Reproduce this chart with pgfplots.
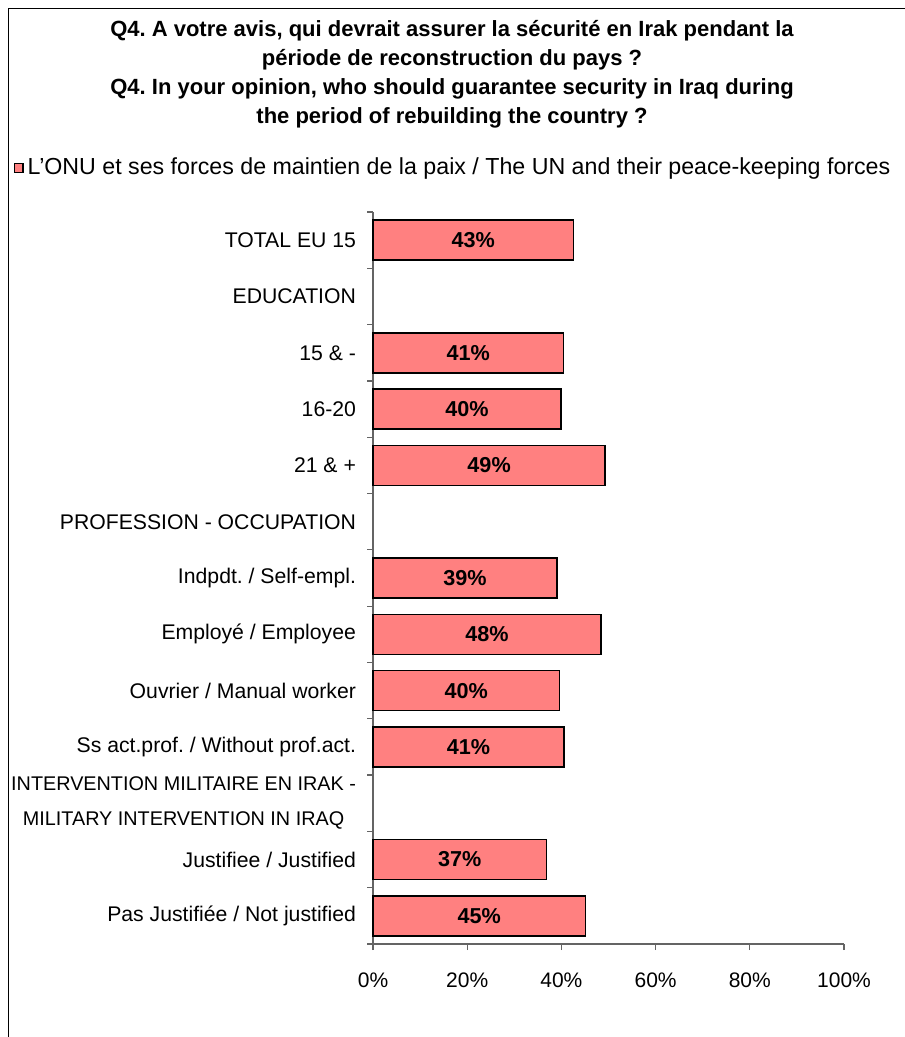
\documentclass[border=0pt]{standalone}
\usepackage{fontspec}
\setmainfont{Liberation Sans}
\usepackage{pgfplots}
\pgfplotsset{compat=1.18}
\usepackage{pgfplotstable}
\frenchspacing

\definecolor{barred}{RGB}{255,128,128}
\definecolor{axgray}{RGB}{100,100,100}

\newcommand\labfont{\fontsize{9.9}{17.4}\selectfont}
\newcommand\intlab{\labfont INTERVENTION MILITAIRE EN IRAK -\\\labfont MILITARY INTERVENTION IN IRAQ}

% y = position from the top, v = bar length, lab = printed value
\pgfplotstableread{
y v lab
0 42.6 43
2 40.4 41
3 39.9 40
4 49.3 49
6 39.1 39
7 48.4 48
8 39.6 40
9 40.5 41
11 36.8 37
12 45.1 45
}\datatable

\begin{document}
\begin{tikzpicture}
\useasboundingbox (0,0) rectangle (452pt,-518.5pt);
\draw[black, line width=0.8pt] (4.2pt,-4.2pt) rectangle (470pt,-540pt);
\node[align=center, font=\fontsize{11}{14.5}\selectfont\bfseries] at (226pt,-37pt)
  {Q4. A votre avis, qui devrait assurer la sécurité en Irak pendant la\\
   période de reconstruction du pays ?\\
   Q4. In your opinion, who should guarantee security in Iraq during\\
   the period of rebuilding the country ?};
\begin{axis}[
    at={(186.5pt,-472pt)}, anchor=south west,
    scale only axis,
    width=235.5pt, height=366pt,
    xmin=0, xmax=100,
    ymin=-0.5, ymax=12.5,
    y dir=reverse,
    axis lines*=left,
    axis line style={axgray, line width=0.6pt},
    tick style={axgray, line width=0.6pt},
    tick align=outside,
    major tick length=3pt,
    xtick={0,20,...,100},
    xticklabel={\pgfmathprintnumber{\tick}\%},
    xticklabel style={yshift=-8pt, font=\fontsize{10.5}{12}\selectfont},
    ytick={-0.5,0.5,...,12.5},
    yticklabels={},
    extra y ticks={0,...,12},
    extra y tick labels={TOTAL EU 15,EDUCATION,15 \& -,16-20,21 \& +,
      PROFESSION - OCCUPATION,Indpdt. / Self-empl.,Employé / Employee,
      Ouvrier / Manual worker,Ss act.prof. / Without prof.act.,
      \intlab,
      Justifiee / Justified,Pas Justifiée / Not justified},
    extra y tick style={major tick length=0pt,
      yticklabel style={align=center, anchor=east, xshift=-5pt,
        font=\fontsize{10.6}{17.4}\selectfont}},
    /pgf/number format/assume math mode=true,
    legend style={at={(axis description cs:0.172,1.06)}, anchor=center,
      draw=none, fill=none, font=\fontsize{11.6}{13}\selectfont},
    clip=false,
]
\addplot[xbar, bar width=20pt, fill=barred, draw=black, line width=0.75pt,
  legend image code/.code={\draw[fill=barred, draw=black, line width=0.6pt]
    (0pt,-2.2pt) rectangle (4.4pt,2.2pt);}]
  table[x=v, y=y] {\datatable};
\addlegendentry{L'ONU et ses forces de maintien de la paix / The UN and their peace-keeping forces}
\addplot[draw=none, mark=none, forget plot,
  nodes near coords={\pgfplotspointmeta\%},
  point meta=explicit symbolic,
  nodes near coords style={anchor=center, font=\fontsize{10.8}{12}\selectfont\bfseries}]
  table[x expr=\thisrow{v}/2, y=y, meta=lab] {\datatable};
\end{axis}
\end{tikzpicture}
\end{document}
